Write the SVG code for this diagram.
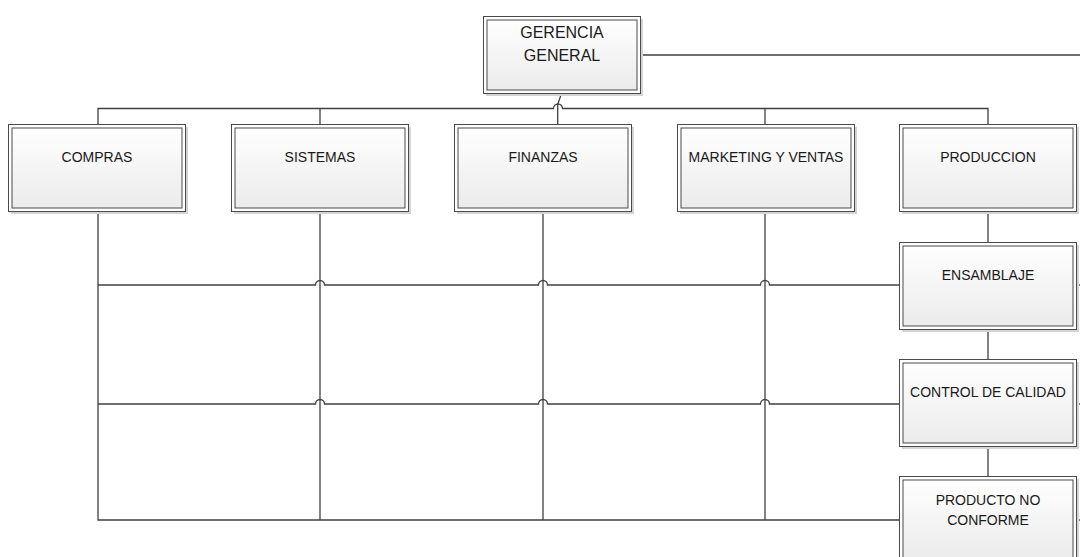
<svg xmlns="http://www.w3.org/2000/svg" width="1080" height="557" viewBox="0 0 1080 557">
  <defs>
    <linearGradient id="boxFill" x1="0" y1="0" x2="0" y2="1">
      <stop offset="0" stop-color="#ffffff"/>
      <stop offset="1" stop-color="#ebebeb"/>
    </linearGradient>
    <style>
      .shadow { fill: #d4d4d4; }
      .outer { fill: #ffffff; stroke: #4a4a4a; stroke-width: 1; }
      .inner { fill: url(#boxFill); stroke: #4a4a4a; stroke-width: 1; }
      .label { font-family: "Liberation Sans", Arial, sans-serif; font-size: 14px; fill: #1a1a1a; text-anchor: middle; }
      .big { font-size: 16px; }
      .wire { fill: none; stroke: #404040; stroke-width: 1.3; }
    </style>
  </defs>

  <rect width="1080" height="557" fill="#ffffff"/>

  <!-- connectors -->
  <g id="connectors" class="wire">
    <!-- top bus with hop over the head link -->
    <path d="M98 124 V108.5 H553.5 A4.5 4.5 0 0 1 562.5 108.5 H988 V124"/>
    <path d="M561.7 93 L557.7 104.3 V124"/>
    <path d="M320 108.5 V124"/>
    <path d="M765 108.5 V124"/>
    <path d="M640 55 H1080"/>
    <!-- drops below the first row -->
    <path d="M98 211 V520 H899"/>
    <path d="M320 211 V520"/>
    <path d="M543 211 V520"/>
    <path d="M765 211 V520"/>
    <!-- cross lines with hops -->
    <path d="M98 285 H315.5 A4.5 4.5 0 0 1 324.5 285 H538.5 A4.5 4.5 0 0 1 547.5 285 H760.5 A4.5 4.5 0 0 1 769.5 285 H899"/>
    <path d="M98 404 H315.5 A4.5 4.5 0 0 1 324.5 404 H538.5 A4.5 4.5 0 0 1 547.5 404 H760.5 A4.5 4.5 0 0 1 769.5 404 H899"/>
    <!-- production chain -->
    <path d="M988 211 V242"/>
    <path d="M988 329 V359"/>
    <path d="M988 446 V476"/>
    <!-- right-hand stubs -->
    <path d="M1076 285 H1080"/>
    <path d="M1076 404 H1080"/>
    <path d="M1076 520 H1080"/>
  </g>

  <g id="gerencia">
    <rect class="shadow" x="486" y="19" width="157" height="77"/>
    <rect class="outer" x="483.5" y="16.5" width="157" height="77"/>
    <rect class="inner" x="487" y="20" width="150" height="70"/>
    <text class="label big" x="562" y="37.5">GERENCIA</text>
    <text class="label big" x="562" y="61">GENERAL</text>
  </g>

  <g id="compras">
    <rect class="shadow" x="11" y="127" width="177" height="87"/>
    <rect class="outer" x="8.5" y="124.5" width="177" height="87"/>
    <rect class="inner" x="12" y="128" width="170" height="80"/>
    <text class="label" x="97" y="162">COMPRAS</text>
  </g>

  <g id="sistemas">
    <rect class="shadow" x="234" y="127" width="177" height="87"/>
    <rect class="outer" x="231.5" y="124.5" width="177" height="87"/>
    <rect class="inner" x="235" y="128" width="170" height="80"/>
    <text class="label" x="320" y="162">SISTEMAS</text>
  </g>

  <g id="finanzas">
    <rect class="shadow" x="457" y="127" width="177" height="87"/>
    <rect class="outer" x="454.5" y="124.5" width="177" height="87"/>
    <rect class="inner" x="458" y="128" width="170" height="80"/>
    <text class="label" x="543" y="162">FINANZAS</text>
  </g>

  <g id="marketing">
    <rect class="shadow" x="680" y="127" width="177" height="87"/>
    <rect class="outer" x="677.5" y="124.5" width="177" height="87"/>
    <rect class="inner" x="681" y="128" width="170" height="80"/>
    <text class="label" x="766" y="162">MARKETING Y VENTAS</text>
  </g>

  <g id="produccion">
    <rect class="shadow" x="902" y="127" width="177" height="87"/>
    <rect class="outer" x="899.5" y="124.5" width="177" height="87"/>
    <rect class="inner" x="903" y="128" width="170" height="80"/>
    <text class="label" x="988" y="162">PRODUCCION</text>
  </g>

  <g id="ensamblaje">
    <rect class="shadow" x="902" y="245" width="177" height="87"/>
    <rect class="outer" x="899.5" y="242.5" width="177" height="87"/>
    <rect class="inner" x="903" y="246" width="170" height="80"/>
    <text class="label" x="988" y="280">ENSAMBLAJE</text>
  </g>

  <g id="control-calidad">
    <rect class="shadow" x="902" y="362" width="177" height="87"/>
    <rect class="outer" x="899.5" y="359.5" width="177" height="87"/>
    <rect class="inner" x="903" y="363" width="170" height="80"/>
    <text class="label" x="988" y="397">CONTROL DE CALIDAD</text>
  </g>

  <g id="producto-no-conforme">
    <rect class="shadow" x="902" y="479" width="177" height="87"/>
    <rect class="outer" x="899.5" y="476.5" width="177" height="87"/>
    <rect class="inner" x="903" y="480" width="170" height="80"/>
    <text class="label" x="988" y="505">PRODUCTO NO</text>
    <text class="label" x="988" y="525">CONFORME</text>
  </g>
</svg>
